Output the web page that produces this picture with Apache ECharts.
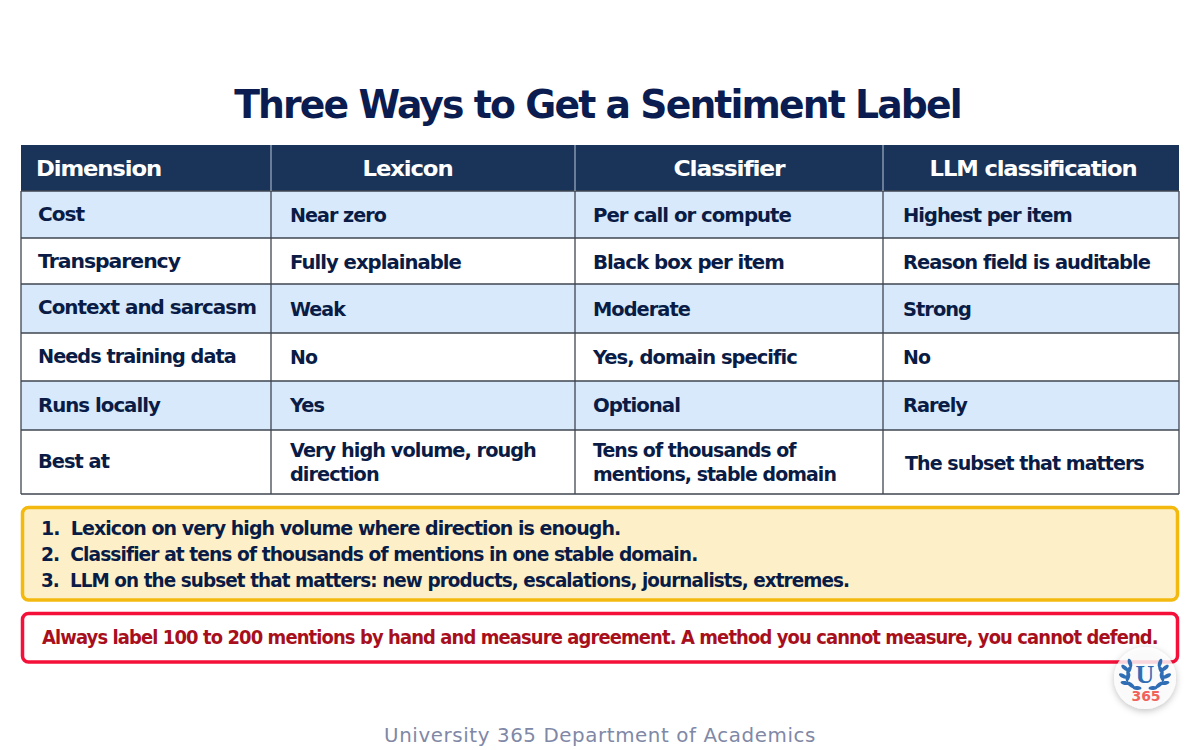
<!DOCTYPE html>
<html>
<head>
<meta charset="utf-8">
<title>Three Ways to Get a Sentiment Label</title>
<script src="https://cdn.jsdelivr.net/npm/echarts@6/dist/echarts.min.js"></script>
<style>
  html, body { margin: 0; padding: 0; background: #fff; }
  #chart { width: 1200px; height: 750px; }
  /* the reference type is tightly tracked */
  #chart text { letter-spacing: -0.05em; }
  #chart text[fill="#8088a6"] { letter-spacing: 0.03em; }
  #chart text[fill="#2f6db5"], #chart text[fill="#f0625a"] { letter-spacing: 0; }
</style>
</head>
<body>
<div id="chart"></div>
<script>
const titleText = "Three Ways to Get a Sentiment Label";
const headers = ["Dimension", "Lexicon", "Classifier", "LLM classification"];
const dimensions = ["Cost", "Transparency", "Context and sarcasm", "Needs training data", "Runs locally", "Best at"];
const lexicon = ["Near zero", "Fully explainable", "Weak", "No", "Yes", "Very high volume, rough\ndirection"];
const classifier = ["Per call or compute", "Black box per item", "Moderate", "Yes, domain specific", "Optional", "Tens of thousands of\nmentions, stable domain"];
const llm = ["Highest per item", "Reason field is auditable", "Strong", "No", "Rarely", "The subset that matters"];
const steps = [
  "1.  Lexicon on very high volume where direction is enough.",
  "2.  Classifier at tens of thousands of mentions in one stable domain.",
  "3.  LLM on the subset that matters: new products, escalations, journalists, extremes."
];
const warningText = "Always label 100 to 200 mentions by hand and measure agreement. A method you cannot measure, you cannot defend.";
const footerText = "University 365 Department of Academics";

// table layout
const colEdges = [21, 271, 575, 883, 1179];
const rowEdges = [145, 191, 238, 284, 333, 381, 430, 494];
const colTextX = [38, 290, 593, 903];
const cellDy = [
  [0, 0, -1.5, -0.5, -0.5, -0.5],
  [1, 1, 1, 0.5, 0, 0],
  [1, 1, 1, 0.5, 0, 0],
  [1, 1.5, 1, 0.5, 0, 1]
];
const headerWidths = [125, 90, 111, 207];
const cellWidths = [
  [46, 142, 218, 198, 122, 71],
  [96, 171, 55, 27, 34, 246],
  [198, 191, 97, 204, 87, 243],
  [169, 247, 68, 27, 64, 239]
];
const stepWidths = [580, 657, 809];

const FONT = '"DejaVu Sans", sans-serif';
const NAVY = "#0a1c45";
const GRID = "#3f4650";
const TRACKING = -0.05;
const els = [];
const measure = document.createElement("canvas").getContext("2d");

function fitScale(str, size, font, width, tracking) {
  measure.font = font;
  measure.letterSpacing = size * tracking + "px";
  const widest = Math.max.apply(null, str.split("\n").map(function (s) {
    return measure.measureText(s).width;
  }));
  return width / widest;
}
function text(x, y, str, size, fill, width, extra) {
  const font = (extra && extra.font) || "bold " + size + "px " + FONT;
  const tracking = extra && extra.tracking !== undefined ? extra.tracking : TRACKING;
  els.push({
    type: "text", x, y, silent: true,
    scaleX: fitScale(str, size, font, width, tracking),
    style: Object.assign({
      text: str, fill, font,
      textAlign: "left", textVerticalAlign: "middle", lineHeight: 24
    }, extra || {})
  });
}
function rect(x, y, w, h, fill, stroke, lw, r) {
  els.push({
    type: "rect", silent: true,
    shape: { x, y, width: w, height: h, r: r || 0 },
    style: { fill, stroke: stroke || null, lineWidth: lw || 0 }
  });
}
function line(x1, y1, x2, y2, stroke, lw) {
  els.push({
    type: "line", silent: true,
    shape: { x1, y1, x2, y2 },
    style: { stroke, lineWidth: lw }
  });
}

// title
text(597.5, 104, titleText, 39, "#0a1c50", 727, { textAlign: "center" });

// header band and rows
const tableW = colEdges[4] - colEdges[0];
rect(colEdges[0], rowEdges[0], tableW, rowEdges[1] - rowEdges[0], "#1a3358");
for (let r = 0; r < dimensions.length; r++) {
  rect(colEdges[0], rowEdges[r + 1], tableW, rowEdges[r + 2] - rowEdges[r + 1], r % 2 === 0 ? "#d7e9fb" : "#ffffff");
}
// grid lines
rowEdges.forEach(function (y, i) {
  if (i > 0) line(colEdges[0], y, colEdges[4], y, GRID, 1.3);
});
colEdges.forEach(function (x, i) {
  line(x, rowEdges[1], x, rowEdges[7], GRID, 1.3);
  if (i > 0 && i < 4) line(x, rowEdges[0], x, rowEdges[1], "#9fb0c4", 1.2);
});

// header text
text(36, 168, headers[0], 22, "#ffffff", headerWidths[0]);
[407.5, 729, 1033].forEach(function (cx, i) {
  text(cx, 168, headers[i + 1], 22, "#ffffff", headerWidths[i + 1], { textAlign: "center" });
});

// body text
[dimensions, lexicon, classifier, llm].forEach(function (col, c) {
  col.forEach(function (val, r) {
    const y = (rowEdges[r + 1] + rowEdges[r + 2]) / 2 + cellDy[c][r];
    let x = colTextX[c];
    if (c === 3 && r === 5) x = 905;
    text(x, y, val, 20, NAVY, cellWidths[c][r]);
  });
});

// recommendation box
rect(22.5, 507.5, 1155, 92.5, "#fdf0c8", "#f4b90f", 3.5, 6);
steps.forEach(function (s, i) {
  text(41, 528 + i * 26, s, 20, NAVY, stepWidths[i]);
});

// warning box
rect(22.5, 613.5, 1155, 48.5, "#ffffff", "#f5103a", 3.5, 6);
text(42, 637, warningText, 20, "#a80f1c", 1116);

// footer
text(600, 735, footerText, 20, "#8088a6", 432, { textAlign: "center", font: "20px " + FONT, tracking: 0.03 });

// badge
const BADGE_X = 1145;
const BADGE_Y = 678;
const BLUE = "#2f6db5";
const leaves = [
  [15, -15, 0.3], [20, -10, 0.9], [16, -8, -0.5], [22, -2, 1.1],
  [17, -1, -0.3], [20, 5, 1.4], [14, 7, 0.9], [8, 10, 1.5]
];
els.push({
  type: "circle", silent: true,
  shape: { cx: BADGE_X, cy: BADGE_Y, r: 31 },
  style: { fill: "rgba(255,255,255,0.8)", shadowBlur: 7, shadowColor: "rgba(0,0,0,0.3)", shadowOffsetY: 2 }
});
[-1, 1].forEach(function (side) {
  els.push({
    type: "bezierCurve", silent: true,
    shape: {
      x1: BADGE_X + side * 14, y1: BADGE_Y - 12,
      x2: BADGE_X + side * 6, y2: BADGE_Y + 11,
      cpx1: BADGE_X + side * 26, cpy1: BADGE_Y + 6
    },
    style: { stroke: BLUE, lineWidth: 1.1, fill: null }
  });
  leaves.forEach(function (l) {
    els.push({
      type: "ellipse", silent: true,
      x: BADGE_X + side * l[0], y: BADGE_Y + l[1],
      rotation: -side * l[2],
      shape: { cx: 0, cy: 0, rx: 2, ry: 4.5 },
      style: { fill: BLUE }
    });
  });
});
els.push({
  type: "text", silent: true, x: BADGE_X, y: BADGE_Y - 4,
  style: { text: "U", fill: BLUE, font: 'bold 26px "Liberation Serif", serif', textAlign: "center", textVerticalAlign: "middle" }
});
els.push({
  type: "text", silent: true, x: BADGE_X + 1, y: BADGE_Y + 18,
  style: { text: "365", fill: "#f0625a", font: "bold 14px " + FONT, textAlign: "center", textVerticalAlign: "middle" }
});

const myChart = echarts.init(document.getElementById("chart"), null, { renderer: "svg" });
myChart.setOption({
  backgroundColor: "#ffffff",
  animation: false,
  graphic: { elements: els }
});
</script>
</body>
</html>
